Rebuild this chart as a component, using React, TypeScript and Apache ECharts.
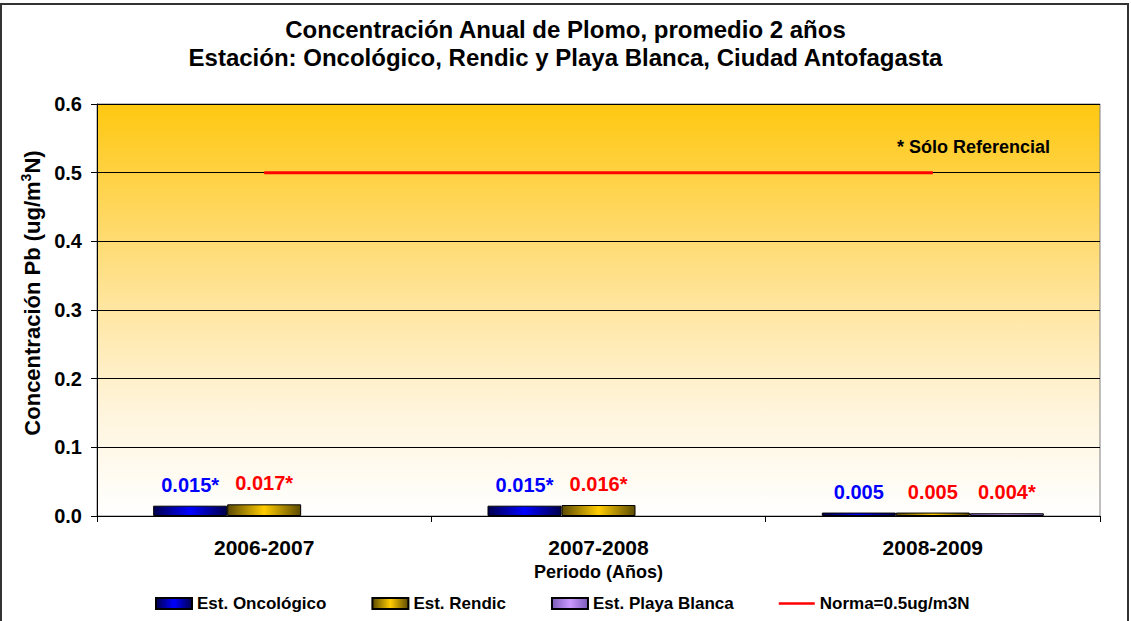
import React, { useEffect, useRef } from 'react';
import * as echarts from 'echarts';

const titleLines = [
  'Concentración Anual de Plomo, promedio 2 años',
  'Estación: Oncológico, Rendic y Playa Blanca, Ciudad Antofagasta',
];
const categories = ['2006-2007', '2007-2008', '2008-2009'];
const seriesNames = ['Est. Oncológico', 'Est. Rendic', 'Est. Playa Blanca', 'Norma=0.5ug/m3N'];
const oncologico = [0.015, 0.015, 0.005];
const rendic = [0.017, 0.016, 0.005];
const playaBlanca: (number | null)[] = [null, null, 0.004];
const norma = [0.5, 0.5, 0.5];
const oncologicoLabels = ['0.015*', '0.015*', '0.005'];
const rendicLabels = ['0.017*', '0.016*', '0.005'];
const playaBlancaLabels = ['', '', '0.004*'];
const yMin = 0;
const yMax = 0.6;
const yStep = 0.1;
const noteText = '* Sólo Referencial';

const FONT = '"Liberation Sans", Arial, sans-serif';

const hGrad = (edge: string, mid: string) => ({
  type: 'linear', x: 0, y: 0, x2: 1, y2: 0,
  colorStops: [
    { offset: 0, color: edge },
    { offset: 0.5, color: mid },
    { offset: 1, color: edge },
  ],
});

export default function App() {
  const ref = useRef<HTMLDivElement>(null);
  useEffect(() => {
    if (!ref.current) return;
    const chart = echarts.init(ref.current, undefined, { renderer: 'svg' });
    const labelFor = (arr: string[], color: string) => ({
      show: true,
      position: 'top',
      distance: 11,
      color,
      fontSize: 20,
      fontWeight: 'bold',
      fontFamily: FONT,
      formatter: (p: any) => arr[p.dataIndex] ?? '',
    });
    chart.setOption({
      animation: false,
      backgroundColor: '#ffffff',
      textStyle: { fontFamily: FONT },
      title: {
        text: titleLines.join('\n'),
        left: 'center',
        top: 10,
        textStyle: { fontSize: 24, fontWeight: 'bold', color: '#000', lineHeight: 28, fontFamily: FONT },
      },
      grid: {
        left: 97, right: 31, top: 104, bottom: 105,
        show: true,
        borderColor: '#808080',
        borderWidth: 1,
        backgroundColor: {
          type: 'linear', x: 0, y: 0, x2: 0, y2: 1,
          colorStops: [
            { offset: 0, color: '#FFC810' },
            { offset: 0.25, color: '#FFD65A' },
            { offset: 0.5, color: '#FFE6A2' },
            { offset: 0.75, color: '#FFF5DD' },
            { offset: 1, color: '#FFFFFF' },
          ],
        },
      },
      legend: {
        bottom: 4,
        left: 150,
        itemWidth: 36,
        itemHeight: 11,
        itemGap: 45,
        textStyle: { fontSize: 17, fontWeight: 'bold', color: '#000', fontFamily: FONT },
        data: [
          { name: seriesNames[0], icon: 'rect' },
          { name: seriesNames[1], icon: 'rect' },
          { name: seriesNames[2], icon: 'rect' },
          { name: seriesNames[3], icon: 'path://M0,0L40,0L40,3L0,3Z' },
        ],
      },
      xAxis: {
        type: 'category',
        data: categories,
        name: 'Periodo (Años)',
        nameLocation: 'middle',
        nameGap: 47,
        nameTextStyle: { fontSize: 18, fontWeight: 'bold', color: '#000', fontFamily: FONT },
        axisLine: { lineStyle: { color: '#000', width: 1 } },
        axisTick: { show: true, length: 6, lineStyle: { color: '#000' } },
        axisLabel: { fontSize: 21, fontWeight: 'bold', color: '#000', margin: 21, fontFamily: FONT },
      },
      yAxis: {
        type: 'value',
        min: yMin,
        max: yMax,
        interval: yStep,
        name: 'Concentración Pb (ug/m{sup|3}N)',
        nameLocation: 'middle',
        nameGap: 52,
        nameRotate: 90,
        nameTextStyle: {
          fontSize: 22, fontWeight: 'bold', color: '#000', fontFamily: FONT,
          padding: [0, 0, 0, 34],
          rich: { sup: { fontSize: 14, fontWeight: 'bold', color: '#000', padding: [0, 0, 12, 0], fontFamily: FONT } },
        },
        axisLine: { show: true, lineStyle: { color: '#000', width: 1 } },
        axisTick: { show: true, length: 6, lineStyle: { color: '#000' } },
        axisLabel: {
          fontSize: 20, fontWeight: 'bold', color: '#000', margin: 15, fontFamily: FONT,
          formatter: (v: number) => v.toFixed(1),
        },
        splitLine: { show: true, lineStyle: { color: '#000', width: 1 } },
      },
      series: [
        {
          name: seriesNames[0], type: 'bar', data: oncologico,
          barWidth: 74, barGap: '0%',
          itemStyle: { color: hGrad('#00004D', '#0000FF'), borderColor: '#000', borderWidth: 1 },
          label: labelFor(oncologicoLabels, '#0000FF'),
        },
        {
          name: seriesNames[1], type: 'bar', data: rendic,
          barWidth: 74, barGap: '0%',
          itemStyle: { color: hGrad('#5C4A00', '#FFCC00'), borderColor: '#000', borderWidth: 1 },
          label: labelFor(rendicLabels, '#FF0000'),
        },
        {
          name: seriesNames[2], type: 'bar', data: playaBlanca,
          barWidth: 74, barGap: '0%',
          itemStyle: { color: hGrad('#7A5CB8', '#CC99FF'), borderColor: '#000', borderWidth: 1 },
          label: labelFor(playaBlancaLabels, '#FF0000'),
        },
        {
          name: seriesNames[3], type: 'line', data: norma,
          symbol: 'none',
          lineStyle: { color: '#FF0000', width: 3 },
          itemStyle: { color: '#FF0000' },
          z: 5,
        },
      ],
      graphic: [
        {
          type: 'rect',
          shape: { x: 1, y: 4, width: 1127, height: 640 },
          style: { fill: 'none', stroke: '#333', lineWidth: 2 },
          silent: true,
        },
        {
          type: 'text',
          left: 897,
          top: 138,
          style: { text: noteText, fontSize: 18, fontWeight: 'bold', fill: '#000', fontFamily: FONT },
        },
      ],
    });
    return () => chart.dispose();
  }, []);
  return (
    <div
      ref={ref}
      style={{ position: 'fixed', left: 0, top: 0, width: 1131, height: 621, background: '#fff' }}
    />
  );
}
